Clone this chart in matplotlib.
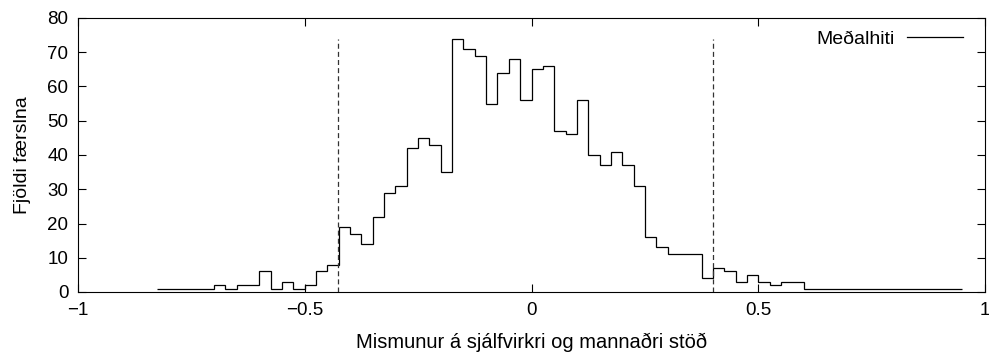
import matplotlib
matplotlib.use("Agg")
import matplotlib.pyplot as plt
import numpy as np

plt.rcParams['font.family'] = ['Liberation Sans', 'DejaVu Sans']

# Histogram data (bin width 0.025, starting at -0.825)
bin_start = -0.825
bin_width = 0.025
counts = [1, 1, 1, 1, 1, 2, 1, 2, 2, 6,
          1, 3, 1, 2, 6, 8, 19, 17, 14, 22,
          29, 31, 42, 45, 43, 35, 74, 71, 69, 55,
          64, 68, 56, 65, 66, 47, 46, 56, 40, 37,
          41, 37, 31, 16, 13, 11, 11, 11, 4, 7,
          6, 3, 5, 3, 2, 3, 3, 1, 1, 1,
          1, 1, 1, 1, 1, 1, 1, 1, 1, 1, 1]
limit_lines = [-0.426, 0.401]
limit_height = 74
x_ticks = [-1, -0.5, 0, 0.5, 1]
x_tick_labels = ['\u22121', '\u22120.5', '0', '0.5', '1']
y_ticks = list(range(0, 81, 10))

edges = bin_start + bin_width * np.arange(len(counts) + 1)

FS = 13.5
LFS = 14.5

fig = plt.figure(figsize=(9.89, 3.53), dpi=100)
ax = fig.add_axes([78/989, 1 - 292/353, (985 - 78)/989, (292 - 18)/353])

ax.stairs(counts, edges, baseline=None, color='black', linewidth=0.9, label='Meðalhiti')
for xv in limit_lines:
    ax.plot([xv, xv], [0, limit_height], color='#333333', linewidth=0.9,
            linestyle=(0, (4, 2.5)))

ax.set_xlim(-1, 1)
ax.set_ylim(0, 80)
ax.set_xticks(x_ticks)
ax.set_xticklabels(x_tick_labels)
ax.set_yticks(y_ticks)
ax.tick_params(direction='in', length=6, width=0.8, top=True, right=True,
               labelsize=FS, pad=7)
for s in ax.spines.values():
    s.set_linewidth(0.8)

ax.set_xlabel('Mismunur á sjálfvirkri og mannaðri stöð', fontsize=LFS, labelpad=10)
ax.set_ylabel('Fjöldi færslna', fontsize=14, labelpad=12)

leg = ax.legend(loc='upper right', bbox_to_anchor=(0.9843, 0.984), borderaxespad=0,
                frameon=False, markerfirst=False,
                fontsize=14, handlelength=2.9, handletextpad=0.6)

fig.savefig('out.png', dpi=100)
